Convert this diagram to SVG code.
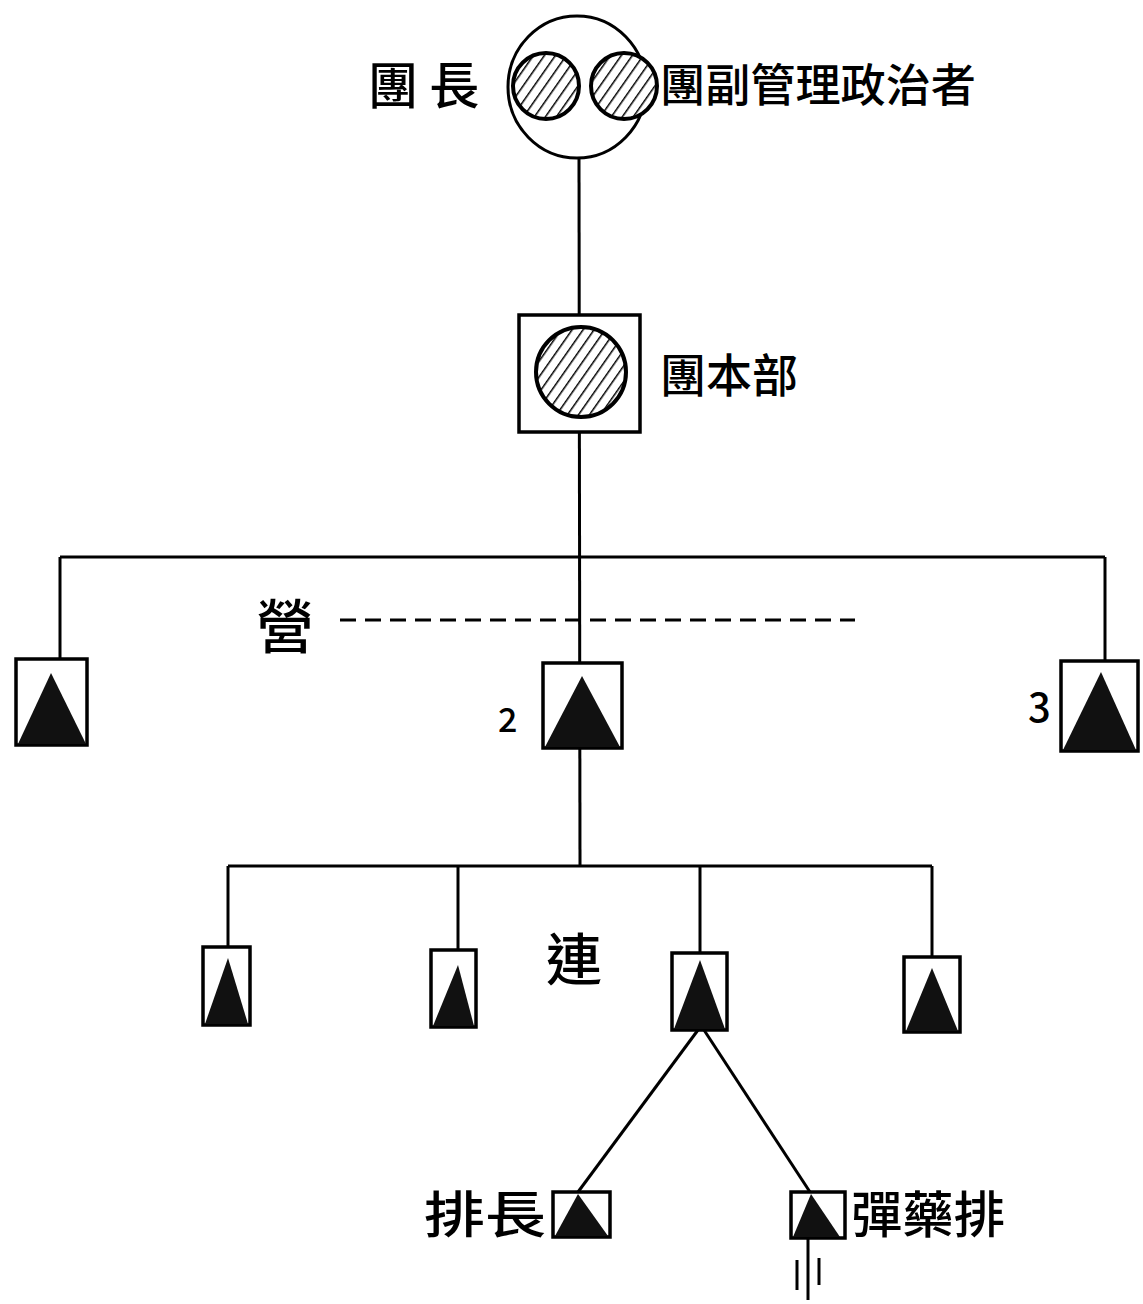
<svg xmlns="http://www.w3.org/2000/svg" width="1143" height="1304" viewBox="0 0 1143 1304">
<defs>
<pattern id="hatch" patternUnits="userSpaceOnUse" width="9" height="9" patternTransform="rotate(35)">
<rect width="9" height="9" fill="#fff"/>
<line x1="0" y1="0" x2="0" y2="9" stroke="#000" stroke-width="3"/>
</pattern>
</defs>
<style>
.ln{stroke:#000;stroke-width:3;fill:none}
.box{stroke:#000;stroke-width:3.5;fill:#fff}
.tri{fill:#111}
.hc{fill:url(#hatch);stroke:#000;stroke-width:4}
.t{font-family:"Noto Sans CJK TC","Noto Sans CJK SC",serif;fill:#000;font-weight:500}
</style>
<rect width="1143" height="1304" fill="#fff"/>
<g id="connectors">
<line class="ln" x1="579" y1="158" x2="580" y2="866"/>
<line class="ln" x1="60" y1="557" x2="1105" y2="557"/>
<line class="ln" x1="60" y1="557" x2="60" y2="660"/>
<line class="ln" x1="1105" y1="557" x2="1105" y2="662"/>
<line class="ln" x1="340" y1="620" x2="855" y2="620" stroke-dasharray="16,9" stroke-width="2"/>
<line class="ln" x1="228" y1="866" x2="932" y2="866"/>
<line class="ln" x1="228" y1="866" x2="228" y2="948"/>
<line class="ln" x1="458" y1="866" x2="458" y2="952"/>
<line class="ln" x1="700" y1="866" x2="700" y2="954"/>
<line class="ln" x1="932" y1="866" x2="932" y2="958"/>
<line class="ln" x1="698" y1="1030" x2="578" y2="1192"/>
<line class="ln" x1="704" y1="1030" x2="810" y2="1192"/>
<line class="ln" x1="808" y1="1238" x2="808" y2="1300"/>
<line class="ln" x1="797" y1="1260" x2="797" y2="1290" stroke-width="2.5"/>
<line class="ln" x1="819" y1="1258" x2="819" y2="1285" stroke-width="2.5"/>
</g>
<g id="regiment-commander">
<ellipse cx="577" cy="87" rx="69" ry="71" fill="#fff" stroke="#000" stroke-width="3"/>
<circle class="hc" cx="546" cy="86" r="33"/>
<circle class="hc" cx="624" cy="86" r="33"/>
<text class="t" x="368" y="104" font-size="50">團 長</text>
<text class="t" x="660" y="102" font-size="45" textLength="316" lengthAdjust="spacingAndGlyphs">團副管理政治者</text>
</g>
<g id="regiment-hq">
<rect class="box" x="519" y="315" width="121" height="117"/>
<circle class="hc" cx="581" cy="372" r="45"/>
<text class="t" x="660" y="392" font-size="46" textLength="138" lengthAdjust="spacingAndGlyphs">團本部</text>
</g>
<g id="battalion-label">
<text class="t" x="256" y="648" font-size="58">營</text>
</g>
<g id="battalion-1">
<rect class="box" x="16" y="659" width="71" height="86"/>
<polygon class="tri" points="51,673 18,744 86,744"/>
</g>
<g id="battalion-2">
<rect class="box" x="543" y="663" width="79" height="85"/>
<polygon class="tri" points="582,676 545,747 620,747"/>
<text class="t" x="498" y="732" font-size="34">2</text>
</g>
<g id="battalion-3">
<rect class="box" x="1061" y="661" width="77" height="90"/>
<polygon class="tri" points="1101,672 1063,750 1136,750"/>
<text class="t" x="1028" y="722" font-size="40">3</text>
</g>
<g id="company-label">
<text class="t" x="546" y="980" font-size="56">連</text>
</g>
<g id="company-1">
<rect class="box" x="203" y="947" width="47" height="78"/>
<polygon class="tri" points="228,958 205,1024 248,1024"/>
</g>
<g id="company-2">
<rect class="box" x="431" y="950" width="45" height="77"/>
<polygon class="tri" points="458,965 433,1026 474,1026"/>
</g>
<g id="company-3">
<rect class="box" x="672" y="953" width="55" height="77"/>
<polygon class="tri" points="700,960 674,1029 725,1029"/>
</g>
<g id="company-4">
<rect class="box" x="904" y="957" width="56" height="75"/>
<polygon class="tri" points="932,968 906,1031 958,1031"/>
</g>
<g id="platoon-leader">
<rect class="box" x="553" y="1192" width="57" height="45"/>
<polygon class="tri" points="578,1194 555,1236 608,1236"/>
<text class="t" x="424" y="1233" font-size="50" textLength="122" lengthAdjust="spacingAndGlyphs">排長</text>
</g>
<g id="ammo-platoon">
<rect class="box" x="791" y="1192" width="54" height="46"/>
<polygon class="tri" points="811,1194 793,1237 840,1237"/>
<text class="t" x="851" y="1233" font-size="50" textLength="154" lengthAdjust="spacingAndGlyphs">彈藥排</text>
</g>
</svg>
